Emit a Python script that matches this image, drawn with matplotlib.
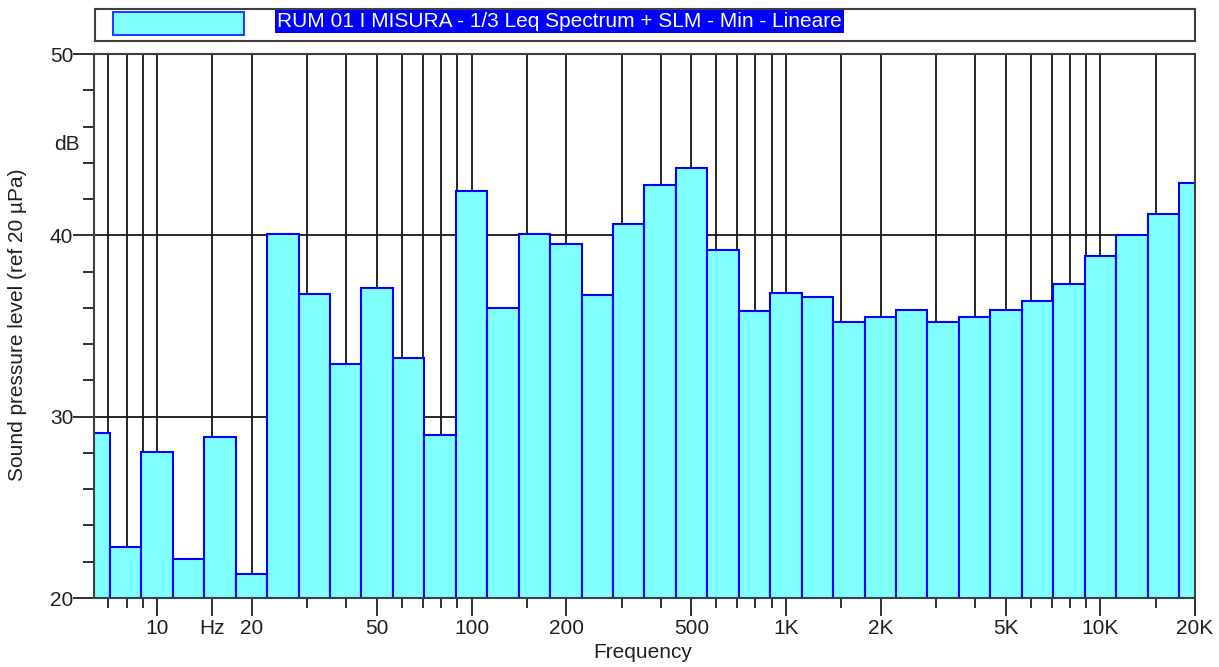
import numpy as np
import matplotlib
matplotlib.use('Agg')
import matplotlib.pyplot as plt
from matplotlib.ticker import FixedLocator, NullFormatter
from matplotlib.patches import Rectangle

plt.rcParams['font.family'] = ['Liberation Sans', 'DejaVu Sans']
plt.rcParams['font.size'] = 15
plt.rcParams['text.color'] = '#202020'
plt.rcParams['xtick.color'] = '#202020'
plt.rcParams['ytick.color'] = '#202020'

# 1/3 octave bands (nominal centre, Hz) and measured levels (dB)
band_hz = [6.3, 8, 10, 12.5, 16, 20, 25, 31.5, 40, 50, 63, 80,
           100, 125, 160, 200, 250, 315, 400, 500, 630, 800,
           1000, 1250, 1600, 2000, 2500, 3150, 4000, 5000, 6300, 8000,
           10000, 12500, 16000, 20000]
levels = [29.1, 22.8, 28.05, 22.15, 28.9, 21.35, 40.1, 36.75, 32.9, 37.1, 33.25, 29.0,
          42.45, 36.0, 40.1, 39.5, 36.7, 40.6, 42.8, 43.7, 39.2, 35.8,
          36.8, 36.6, 35.2, 35.5, 35.9, 35.2, 35.5, 35.9, 36.4, 37.3,
          38.85, 40.0, 41.2, 42.9]

major_x = [10, 15, 20, 50, 100, 200, 500, 1000, 2000, 5000, 10000, 20000]
major_lbl = ['10', 'Hz', '20', '50', '100', '200', '500', '1K', '2K', '5K', '10K', '20K']
minor_x = [7, 8, 9, 30, 40, 60, 70, 80, 90, 150, 300, 400, 600, 700, 800, 900,
           1500, 3000, 4000, 6000, 7000, 8000, 9000, 15000]

legend_text = 'RUM 01 I MISURA - 1/3 Leq Spectrum + SLM - Min - Lineare'

# exact base-10 band centres and edges
fc = 10 ** (np.round(10 * np.log10(band_hz)) / 10)
lo = fc * 10 ** -0.05
hi = fc * 10 ** 0.05

W, H = 1219, 667
fig = plt.figure(figsize=(W / 100, H / 100), dpi=100)
ax = fig.add_axes([94 / W, 1 - 598 / H, (1195 - 94) / W, (598 - 54) / H])

ax.bar(lo, levels, width=hi - lo, align='edge', color='#80FFFF',
       edgecolor='#0000FF', linewidth=1.5, zorder=2)

ax.set_xscale('log')
ax.set_xlim(6.3, 20000)
ax.set_ylim(20, 50)

ax.xaxis.set_major_locator(FixedLocator(major_x))
ax.set_xticklabels(major_lbl)
ax.xaxis.set_minor_locator(FixedLocator(minor_x))
ax.xaxis.set_minor_formatter(NullFormatter())
ax.set_yticks([20, 30, 40, 50])
ax.yaxis.set_minor_locator(FixedLocator([22, 24, 26, 28, 32, 34, 36, 38, 42, 44, 46, 48]))

ax.tick_params(which='major', direction='out', length=13, width=1.3, pad=2)
ax.tick_params(which='minor', direction='out', length=7, width=1.3)
ax.tick_params(axis='y', which='major', length=15, pad=0)
ax.tick_params(axis='y', which='minor', length=8)

ax.set_axisbelow(True)
ax.grid(axis='x', which='both', color='#151515', linewidth=1.3)
ax.grid(axis='y', which='major', color='#151515', linewidth=1.3)

for s in ax.spines.values():
    s.set_color('#404040')
    s.set_linewidth(1.5)

fig.text(80 / W, 1 - 145 / H, 'dB', ha='right', va='center')
fig.text(18 / W, 1 - 325 / H, 'Sound pressure level (ref 20 µPa)',
         rotation=90, ha='center', va='center')
fig.text(643 / W, 1 - 652 / H, 'Frequency', ha='center', va='center')

# legend box
lax = fig.add_axes([95 / W, 1 - 41 / H, 1100 / W, 32 / H])
lax.set_xticks([])
lax.set_yticks([])
lax.set_xlim(0, 1)
lax.set_ylim(0, 1)
for s in lax.spines.values():
    s.set_color('#404040')
    s.set_linewidth(1.5)
lax.add_patch(Rectangle((0.0164, 0.19), 0.119, 0.72, facecolor='#80FFFF',
                        edgecolor='#2040FF', linewidth=1.5))
lax.text(0.1655, 0.6, legend_text, color='white', ha='left', va='center',
         bbox=dict(facecolor='#0000FF', edgecolor='none', pad=1.5))

fig.savefig('out.png', dpi=100)
